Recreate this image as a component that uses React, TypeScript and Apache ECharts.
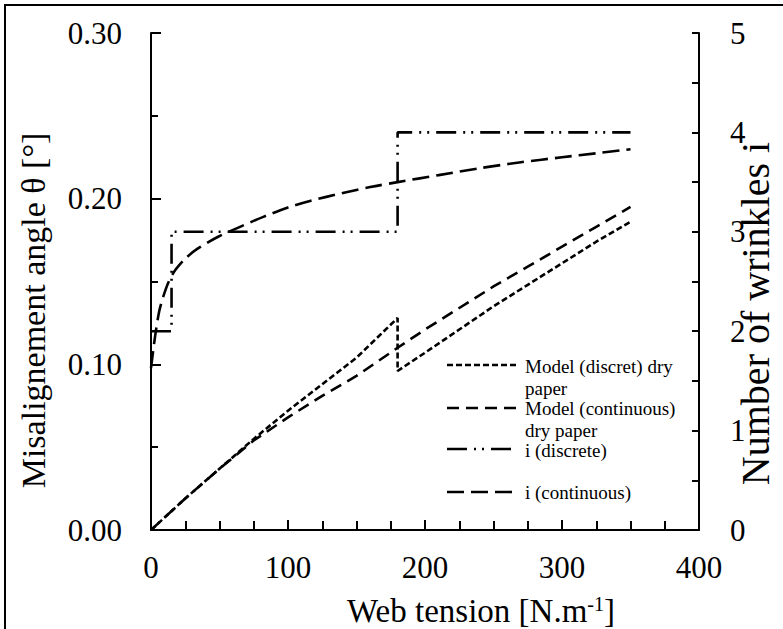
import React, { useEffect, useRef } from "react";
import * as echarts from "echarts";

// ---- data ----
const discretModelX = [0, 25, 50, 75, 100, 125, 150, 180, 180, 200, 225, 250, 275, 300, 325, 350];
const discretModelY = [0, 0.019, 0.037, 0.055, 0.072, 0.088, 0.104, 0.128, 0.096, 0.107, 0.121, 0.135, 0.148, 0.161, 0.174, 0.186];

const continuousModelX = [0, 25, 50, 75, 100, 125, 150, 180, 200, 225, 250, 275, 300, 325, 350];
const continuousModelY = [0, 0.019, 0.037, 0.054, 0.068, 0.081, 0.093, 0.110, 0.121, 0.134, 0.147, 0.159, 0.171, 0.183, 0.195];

const iDiscreteX = [0, 15, 15, 180, 180, 350];
const iDiscreteY = [2, 2, 3, 3, 4, 4];

const iContinuousX = [0, 3, 6, 9, 13, 18, 25, 34, 49, 65, 82, 99, 116, 140, 160, 180, 210, 240, 270, 300, 325, 350];
const iContinuousY = [1.63, 1.95, 2.2, 2.35, 2.5, 2.62, 2.73, 2.83, 2.95, 3.05, 3.15, 3.24, 3.31, 3.39, 3.45, 3.5, 3.57, 3.64, 3.7, 3.75, 3.79, 3.83];

const seriesNames = [
  "Model (discret) dry paper",
  "Model (continuous) dry paper",
  "i (discrete)",
  "i (continuous)",
];
const legendLabels = [
  "Model (discret) dry\npaper",
  "Model (continuous)\ndry paper",
  "i (discrete)",
  "i (continuous)",
];

const FONT = "Liberation Serif";

const pairs = (xs: number[], ys: number[]) => xs.map((x, i) => [x, ys[i]]);

const dashes: number[][] = [
  [6, 3],
  [12, 7],
  [20, 7, 2, 6, 2, 7],
  [17, 7],
];

export default function App() {
  const ref = useRef<HTMLDivElement>(null);
  useEffect(() => {
    if (!ref.current) return;
    const chart = echarts.init(ref.current, undefined, { renderer: "svg" });
    const lineW = 2.6;
    const legendRows = [
      { ly: 365, ty: 356 },
      { ly: 408, ty: 398 },
      { ly: 449, ty: 440 },
      { ly: 492, ty: 482 },
    ];
    const graphic: any[] = [
      {
        type: "rect",
        shape: { x: 5, y: 5, width: 900, height: 900 },
        style: { fill: "none", stroke: "#000", lineWidth: 2 },
        silent: true,
      },
    ];
    legendRows.forEach((r, i) => {
      graphic.push({
        type: "line",
        shape: { x1: 447, y1: r.ly, x2: 517, y2: r.ly },
        style: { stroke: "#000", lineWidth: lineW, lineDash: dashes[i] },
      });
      graphic.push({
        type: "text",
        x: 525,
        y: r.ty,
        style: {
          text: legendLabels[i],
          fill: "#000",
          fontFamily: FONT,
          fontSize: 19,
          lineHeight: 21.5,
          verticalAlign: "top",
          align: "left",
        },
      });
    });

    const axisCommon = {
      axisLine: { show: true, lineStyle: { color: "#000", width: 2 } },
      splitLine: { show: false },
      axisLabel: { color: "#000", fontFamily: FONT, fontSize: 31 },
    };

    chart.setOption({
      animation: false,
      backgroundColor: "#fff",
      textStyle: { fontFamily: FONT },
      grid: {
        left: 151,
        right: 84,
        top: 33,
        bottom: 99,
        containLabel: false,
        outerBoundsMode: "none",
      },
      graphic,
      xAxis: {
        type: "value",
        min: 0,
        max: 400,
        interval: 100,
        ...axisCommon,
        axisLabel: { ...axisCommon.axisLabel, margin: 22 },
        axisTick: { show: true, inside: true, length: 10, lineStyle: { color: "#000", width: 2 } },
        minorTick: { show: true, splitNumber: 4, length: 9, lineStyle: { color: "#000", width: 2 } },
        name: "Web tension [N.m{sup|-1}]",
        nameLocation: "middle",
        nameGap: 64,
        nameTextStyle: {
          color: "#000",
          fontFamily: FONT,
          fontSize: 33,
          padding: [0, 0, 0, 112],
          rich: {
            sup: { fontSize: 20, fontFamily: FONT, color: "#000", verticalAlign: "top" },
          },
        },
      },
      yAxis: [
        {
          type: "value",
          position: "left",
          min: 0,
          max: 0.3,
          interval: 0.1,
          ...axisCommon,
          axisLabel: {
            ...axisCommon.axisLabel,
            margin: 29,
            formatter: (v: number) => v.toFixed(2),
          },
          axisTick: { show: true, inside: true, length: 10, lineStyle: { color: "#000", width: 2 } },
          minorTick: { show: true, splitNumber: 2, length: 7, lineStyle: { color: "#000", width: 2 } },
          name: "Misalignement angle θ [°]",
          nameLocation: "middle",
          nameRotate: 90,
          nameGap: 101,
          nameTextStyle: {
            color: "#000",
            fontFamily: FONT,
            fontSize: 34,
            padding: [0, 58, 0, 0],
          },
        },
        {
          type: "value",
          position: "right",
          min: 0,
          max: 5,
          interval: 1,
          ...axisCommon,
          axisLabel: { ...axisCommon.axisLabel, margin: 31 },
          axisTick: { show: true, inside: true, length: 7, lineStyle: { color: "#000", width: 2 } },
          minorTick: { show: true, splitNumber: 2, length: 7, lineStyle: { color: "#000", width: 2 } },
          name: "Number of wrinkles i",
          nameLocation: "middle",
          nameRotate: 90,
          nameGap: 36,
          nameMoveOverlap: false,
          nameTextStyle: {
            color: "#000",
            fontFamily: FONT,
            fontSize: 40,
            padding: [0, 64, 0, 0],
          },
        },
      ],
      series: [
        {
          name: seriesNames[0],
          type: "line",
          yAxisIndex: 0,
          showSymbol: false,
          symbol: "none",
          data: pairs(discretModelX, discretModelY),
          lineStyle: { color: "#000", width: lineW, type: dashes[0] },
        },
        {
          name: seriesNames[1],
          type: "line",
          yAxisIndex: 0,
          showSymbol: false,
          symbol: "none",
          data: pairs(continuousModelX, continuousModelY),
          lineStyle: { color: "#000", width: lineW, type: dashes[1] },
        },
        {
          name: seriesNames[2],
          type: "line",
          yAxisIndex: 1,
          showSymbol: false,
          symbol: "none",
          data: pairs(iDiscreteX, iDiscreteY),
          lineStyle: { color: "#000", width: lineW, type: dashes[2] },
        },
        {
          name: seriesNames[3],
          type: "line",
          yAxisIndex: 1,
          showSymbol: false,
          symbol: "none",
          smooth: 0.3,
          data: pairs(iContinuousX, iContinuousY),
          lineStyle: { color: "#000", width: lineW, type: dashes[3] },
        },
      ],
    });
    return () => chart.dispose();
  }, []);
  return (
    <div
      ref={ref}
      style={{ position: "fixed", left: 0, top: 0, width: 783, height: 629, background: "#fff" }}
    />
  );
}
